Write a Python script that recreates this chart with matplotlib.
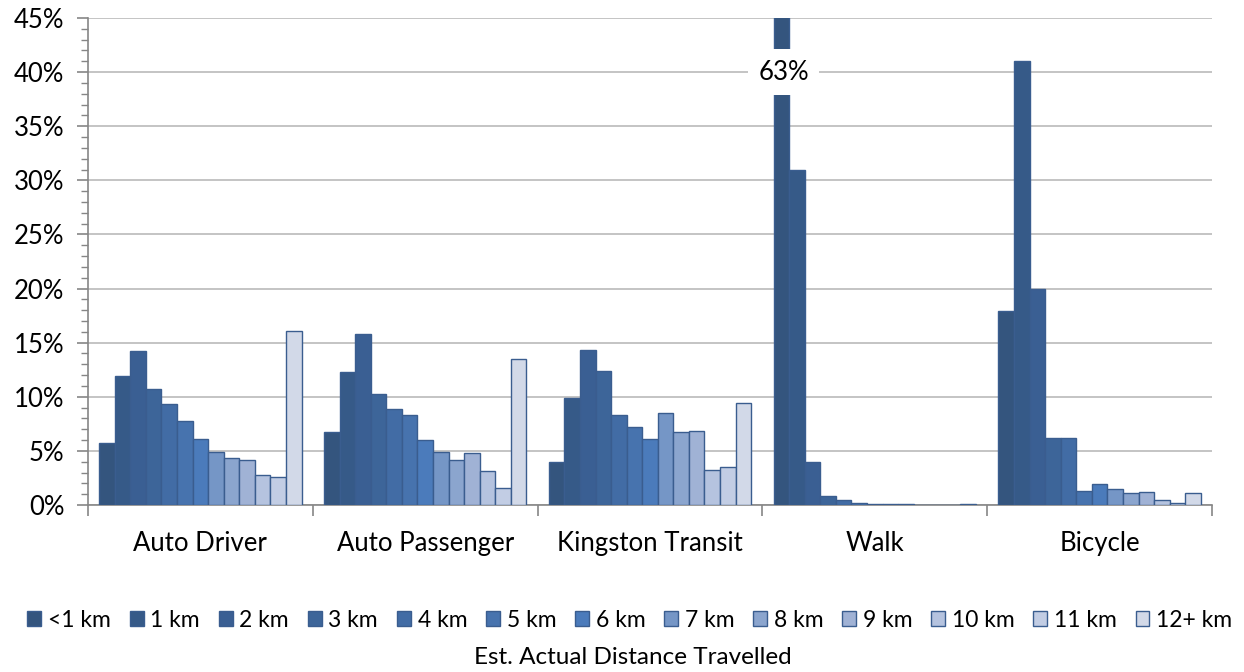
import matplotlib
matplotlib.use("Agg")
import matplotlib.pyplot as plt
import numpy as np
from matplotlib.ticker import MultipleLocator, FuncFormatter

# ---- data ----
modes = ["Auto Driver", "Auto Passenger", "Kingston Transit", "Walk", "Bicycle"]
distances = ["<1 km", "1 km", "2 km", "3 km", "4 km", "5 km", "6 km",
             "7 km", "8 km", "9 km", "10 km", "11 km", "12+ km"]
auto_driver = [5.7, 11.9, 14.2, 10.7, 9.3, 7.8, 6.1, 4.9, 4.3, 4.2, 2.8, 2.6, 16.1]
auto_passenger = [6.7, 12.3, 15.8, 10.3, 8.9, 8.3, 6.0, 4.9, 4.2, 4.8, 3.1, 1.6, 13.5]
kingston_transit = [4.0, 9.9, 14.3, 12.4, 8.3, 7.2, 6.1, 8.5, 6.7, 6.8, 3.2, 3.5, 9.4]
walk = [63.0, 31.0, 4.0, 0.8, 0.5, 0.2, 0.05, 0.1, 0.05, 0.0, 0.0, 0.0, 0.1]
bicycle = [17.9, 41.0, 20.0, 6.2, 6.2, 1.3, 1.9, 1.5, 1.1, 1.2, 0.5, 0.2, 1.1]
y_ticks = [0, 5, 10, 15, 20, 25, 30, 35, 40, 45]

colors = ["#34557e", "#365a88", "#3a5f93", "#3d6599", "#426ca5", "#4773ae",
          "#4b7bbb", "#7596c6", "#8ba5ce", "#a0b2d5", "#b5c3df", "#c2cde4", "#d2d9e8"]

data = np.array([auto_driver, auto_passenger, kingston_transit, walk, bicycle])

plt.rcParams['font.family'] = ['Lato', 'DejaVu Sans']

fig = plt.figure(figsize=(12.44, 6.72), dpi=100)
ax = fig.add_axes([0.0707, 0.2485, 0.9036, 0.7247])

ymax = 45
n = len(distances)
group_w = 0.9
bw = group_w / n
x = np.arange(len(modes))
for i, d in enumerate(distances):
    xs = x - group_w / 2 + bw * (i + 0.5)
    ax.bar(xs, data[:, i], width=bw, color=colors[i], edgecolor="#3a5d8f",
           linewidth=1.0, label=d, zorder=3)

# broken bar label for Walk <1 km
wi = modes.index("Walk")
xw = x[wi] - group_w / 2 + bw * 0.5
ax.text(xw + 0.01, 40, f"{walk[0]:.0f}%", ha="center", va="center", fontsize=18.5,
        zorder=5, bbox=dict(boxstyle="square,pad=0.4", fc="white", ec="none"))

ax.set_xlim(-0.5, len(modes) - 0.5)
ax.set_ylim(0, ymax)
ax.set_yticks(y_ticks)
ax.yaxis.set_major_formatter(FuncFormatter(lambda v, p: f"{v:.0f}%"))
ax.yaxis.set_minor_locator(MultipleLocator(1))
ax.grid(axis="y", color="#bfbfbf", linewidth=1.3, zorder=0)
ax.set_axisbelow(True)

ax.set_xticks(np.arange(-0.5, len(modes), 1.0))
ax.set_xticklabels([])
ax.set_xticks(x, minor=True)
ax.set_xticklabels(modes, minor=True, fontsize=18.5)
ax.tick_params(axis="x", which="major", length=8, color="#868686", width=1.2)
ax.tick_params(axis="x", which="minor", length=0, pad=19)
ax.tick_params(axis="y", which="major", length=8, color="#868686", width=1.2,
               labelsize=18.5, pad=9)
ax.tick_params(axis="y", which="minor", length=5, color="#868686", width=1.0)

for s in ["top", "right"]:
    ax.spines[s].set_visible(False)
for s in ["left", "bottom"]:
    ax.spines[s].set_color("#868686")
    ax.spines[s].set_linewidth(1.2)

leg = fig.legend(loc="center", bbox_to_anchor=(0.5064, 0.077), ncol=n, frameon=False,
                 fontsize=16.5, handlelength=0.6, handleheight=0.6,
                 handletextpad=0.3, columnspacing=0.82)
fig.text(0.509, 0.022, "Est. Actual Distance Travelled", ha="center", va="center",
         fontsize=17.5)

fig.savefig("out.png", dpi=100)
